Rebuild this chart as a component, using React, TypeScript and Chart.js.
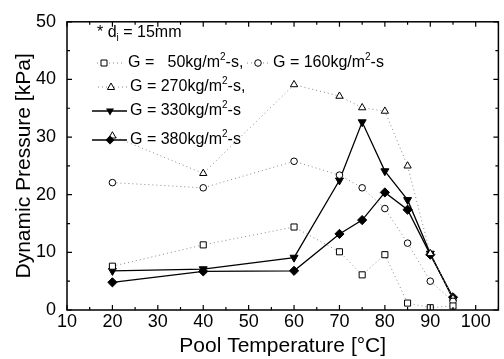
import React, { useEffect, useRef } from "react";
import { Chart, registerables } from "chart.js";

Chart.register(...registerables);

const temps = [20, 40, 60, 70, 75, 80, 85, 90, 95];
const g50 = [7.6, 11.3, 14.4, 10.1, 6.1, 9.6, 1.2, 0.4, 0.7];
const g160 = [22.1, 21.2, 25.8, 23.4, 21.2, 17.6, 11.6, 5.0, 1.5];
const g270 = [30.2, 23.7, 39.1, 37.1, 35.1, 34.5, 25.0, 9.8, 2.0];
const g330 = [6.8, 7.1, 9.1, 22.5, 32.6, 24.1, 19.1, 9.8, 1.9];
const g380 = [4.8, 6.7, 6.8, 13.2, 15.6, 20.4, 17.4, 9.6, 2.2];

const FONT = '"Liberation Sans", Arial, sans-serif';

const toPts = (ys: number[]) => temps.map((x, i) => ({ x, y: ys[i] }));

type Seg = { t: string; sup?: boolean; sub?: boolean };

function drawRich(ctx: CanvasRenderingContext2D, x: number, y: number, segs: Seg[], size: number) {
  let cx = x;
  for (const s of segs) {
    if (s.sup || s.sub) {
      ctx.font = `${Math.round(size * 0.62)}px ${FONT}`;
      const dy = s.sup ? -size * 0.38 : size * 0.3;
      ctx.fillText(s.t, cx, y + dy);
      cx += ctx.measureText(s.t).width;
    } else {
      ctx.font = `${size}px ${FONT}`;
      ctx.fillText(s.t, cx, y);
      cx += ctx.measureText(s.t).width;
    }
  }
  return cx;
}

function marker(ctx: CanvasRenderingContext2D, kind: string, x: number, y: number) {
  ctx.save();
  ctx.lineWidth = 1;
  ctx.strokeStyle = "#000";
  ctx.setLineDash([]);
  ctx.beginPath();
  if (kind === "square") {
    ctx.rect(x - 3, y - 3, 6, 6);
    ctx.fillStyle = "#fff";
    ctx.fill();
    ctx.stroke();
  } else if (kind === "circle") {
    ctx.arc(x, y, 3.3, 0, Math.PI * 2);
    ctx.fillStyle = "#fff";
    ctx.fill();
    ctx.stroke();
  } else if (kind === "tri") {
    ctx.moveTo(x, y - 4);
    ctx.lineTo(x + 3.6, y + 2.5);
    ctx.lineTo(x - 3.6, y + 2.5);
    ctx.closePath();
    ctx.fillStyle = "#fff";
    ctx.fill();
    ctx.stroke();
  } else if (kind === "itri") {
    ctx.moveTo(x, y + 4.5);
    ctx.lineTo(x + 4, y - 2.5);
    ctx.lineTo(x - 4, y - 2.5);
    ctx.closePath();
    ctx.fillStyle = "#000";
    ctx.fill();
  } else if (kind === "diamond") {
    ctx.moveTo(x, y - 4.5);
    ctx.lineTo(x + 4.5, y);
    ctx.lineTo(x, y + 4.5);
    ctx.lineTo(x - 4.5, y);
    ctx.closePath();
    ctx.fillStyle = "#000";
    ctx.fill();
  }
  ctx.restore();
}

function legLine(ctx: CanvasRenderingContext2D, x1: number, x2: number, y: number, dotted: boolean) {
  ctx.save();
  ctx.beginPath();
  ctx.strokeStyle = dotted ? "#888" : "#000";
  ctx.lineWidth = dotted ? 1 : 1.3;
  ctx.setLineDash(dotted ? [1, 3] : []);
  ctx.moveTo(x1, y);
  ctx.lineTo(x2, y);
  ctx.stroke();
  ctx.restore();
}

const framePlugin = {
  id: "frame",
  afterDatasetsDraw(chart: any) {
    const ctx: CanvasRenderingContext2D = chart.ctx;
    const { left, right, top, bottom } = chart.chartArea;
    const xs = chart.scales.x;
    const ys = chart.scales.y;
    ctx.save();
    ctx.strokeStyle = "#000";
    ctx.lineWidth = 1.5;
    ctx.setLineDash([]);
    ctx.strokeRect(left, top, right - left, bottom - top);
    ctx.lineWidth = 1.2;
    ctx.beginPath();
    for (let v = 10; v <= 105; v += 5) {
      const px = xs.getPixelForValue(v);
      const len = v % 10 === 0 ? 5 : 3;
      ctx.moveTo(px, bottom);
      ctx.lineTo(px, bottom - len);
      ctx.moveTo(px, top);
      ctx.lineTo(px, top + len);
    }
    for (let v = 0; v <= 50; v += 5) {
      const py = ys.getPixelForValue(v);
      const len = v % 10 === 0 ? 5 : 3;
      ctx.moveTo(left, py);
      ctx.lineTo(left + len, py);
      ctx.moveTo(right, py);
      ctx.lineTo(right - len, py);
    }
    ctx.stroke();

    // legend
    ctx.fillStyle = "#000";
    ctx.textBaseline = "middle";
    ctx.textAlign = "left";
    const fs = 16;
    drawRich(ctx, 97, 33, [{ t: "* d" }, { t: "i", sub: true }, { t: " = 15mm" }], fs);

    legLine(ctx, 97, 124, 63, true);
    marker(ctx, "square", 104, 63);
    drawRich(ctx, 128, 63, [{ t: "G =   50kg/m" }, { t: "2", sup: true }, { t: "-s," }], fs);
    legLine(ctx, 247, 270, 63, true);
    marker(ctx, "circle", 258, 63);
    drawRich(ctx, 273, 63, [{ t: "G = 160kg/m" }, { t: "2", sup: true }, { t: "-s" }], fs);

    legLine(ctx, 98, 127, 87, true);
    marker(ctx, "tri", 111, 87);
    drawRich(ctx, 130, 87, [{ t: "G = 270kg/m" }, { t: "2", sup: true }, { t: "-s," }], fs);

    legLine(ctx, 92, 127, 111, false);
    marker(ctx, "itri", 110, 111);
    drawRich(ctx, 130, 111, [{ t: "G = 330kg/m" }, { t: "2", sup: true }, { t: "-s" }], fs);

    legLine(ctx, 92, 127, 140, false);
    marker(ctx, "diamond", 110, 140);
    drawRich(ctx, 130, 140, [{ t: "G = 380kg/m" }, { t: "2", sup: true }, { t: "-s" }], fs);
    ctx.restore();
  },
};

export default function App() {
  const ref = useRef<HTMLCanvasElement | null>(null);
  useEffect(() => {
    if (!ref.current) return;
    const dotted = (data: number[], style: string, radius: number, rotation = 0) => ({
      data: toPts(data),
      borderColor: "#888",
      borderWidth: 1,
      borderDash: [1, 3],
      pointStyle: style,
      pointRadius: radius,
      pointRotation: rotation,
      pointBackgroundColor: "#fff",
      pointBorderColor: "#000",
      pointBorderWidth: 1,
      tension: 0,
    });
    const solid = (data: number[], style: string, radius: number, rotation = 0) => ({
      data: toPts(data),
      borderColor: "#000",
      borderWidth: 1.3,
      pointStyle: style,
      pointRadius: radius,
      pointRotation: rotation,
      pointBackgroundColor: "#000",
      pointBorderColor: "#000",
      pointBorderWidth: 1,
      tension: 0,
    });
    const chart = new Chart(ref.current, {
      type: "line",
      data: {
        datasets: [
          { label: "G = 50kg/m2-s", ...dotted(g50, "rect", 4.3) },
          { label: "G = 160kg/m2-s", ...dotted(g160, "circle", 3.3) },
          { label: "G = 270kg/m2-s", ...dotted(g270, "triangle", 4.2) },
          { label: "G = 330kg/m2-s", ...solid(g330, "triangle", 4.6, 180) },
          { label: "G = 380kg/m2-s", ...solid(g380, "rectRot", 4.6) },
        ] as any,
      },
      options: {
        animation: false,
        responsive: false,
        maintainAspectRatio: false,
        layout: { padding: { top: 17, right: 4, left: 0, bottom: 0 } },
        plugins: { legend: { display: false }, tooltip: { enabled: false } },
        scales: {
          x: {
            type: "linear",
            min: 10,
            max: 105,
            grid: { display: false, drawTicks: false },
            border: { display: false },
            ticks: {
              stepSize: 10,
              includeBounds: false,
              color: "#000",
              padding: 1,
              font: { family: FONT, size: 18 },
              maxRotation: 0,
            },
            title: {
              display: true,
              text: "Pool Temperature [°C]",
              color: "#000",
              font: { family: FONT, size: 21 },
              padding: { top: 0, bottom: 0 },
            },
            afterFit: (s: any) => {
              s.height = 49;
            },
          },
          y: {
            min: 0,
            max: 50,
            grid: { display: false, drawTicks: false },
            border: { display: false },
            ticks: {
              stepSize: 10,
              color: "#000",
              padding: 11,
              font: { family: FONT, size: 18 },
            },
            title: {
              display: true,
              text: "Dynamic Pressure [kPa]",
              color: "#000",
              font: { family: FONT, size: 21 },
              padding: { top: 12, bottom: 0 },
            },
            afterFit: (s: any) => {
              s.width = 67;
            },
          },
        },
      } as any,
      plugins: [framePlugin],
    });
    return () => chart.destroy();
  }, []);
  return (
    <div style={{ position: "fixed", left: 0, top: 0, width: 504, height: 359, background: "#fff" }}>
      <canvas ref={ref} width={504} height={359} style={{ width: 504, height: 359, display: "block" }} />
    </div>
  );
}
